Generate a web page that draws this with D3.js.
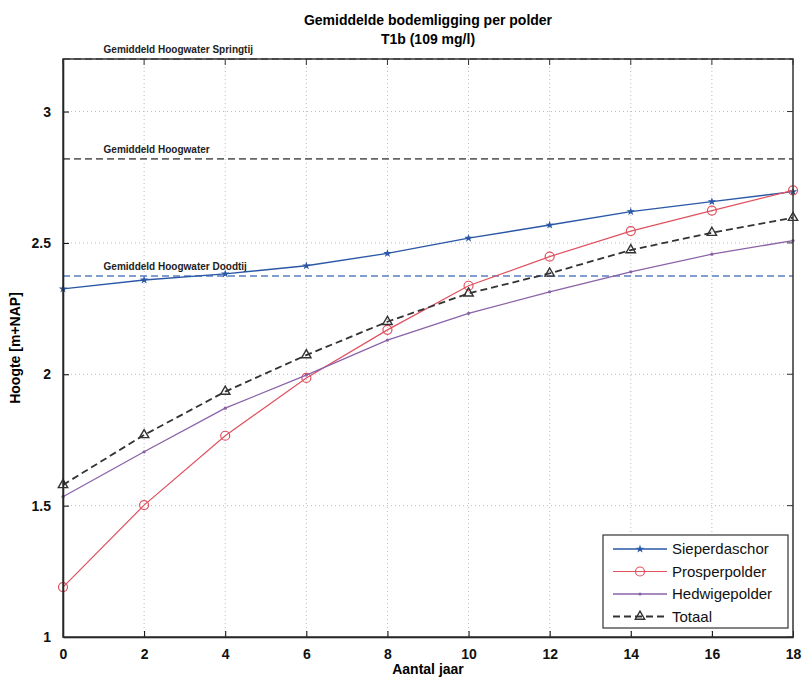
<!DOCTYPE html>
<html>
<head>
<meta charset="utf-8">
<script src="https://cdn.jsdelivr.net/npm/d3@7"></script>
<style>
  body { margin: 0; background: #fff; }
  text { font-family: "Liberation Sans", Arial, sans-serif; }
</style>
</head>
<body>
<div id="chart"></div>
<script>
const years = [0, 2, 4, 6, 8, 10, 12, 14, 16, 18];
const sieperdaschor = [2.325, 2.359, 2.382, 2.413, 2.46, 2.518, 2.568, 2.619, 2.657, 2.695];
const prosperpolder = [1.19, 1.502, 1.766, 1.986, 2.169, 2.337, 2.448, 2.545, 2.623, 2.70];
const hedwigepolder = [1.534, 1.705, 1.871, 1.997, 2.13, 2.232, 2.314, 2.39, 2.457, 2.509];
const totaal = [1.579, 1.769, 1.934, 2.073, 2.20, 2.308, 2.384, 2.473, 2.539, 2.596];

const refNames = ["Gemiddeld Hoogwater Springtij", "Gemiddeld Hoogwater", "Gemiddeld Hoogwater Doodtij"];
const refLevels = [3.2, 2.82, 2.374];
const refColors = ["#666", "#666", "#5a7fc0"];

const xTicks = [0, 2, 4, 6, 8, 10, 12, 14, 16, 18];
const yTicks = [1, 1.5, 2, 2.5, 3];

const series = [
    { name: "Sieperdaschor", values: sieperdaschor, color: "#2a57a6", marker: "star", dash: null, width: 1.4 },
    { name: "Prosperpolder", values: prosperpolder, color: "#e0505f", marker: "circle", dash: null, width: 1.2 },
    { name: "Hedwigepolder", values: hedwigepolder, color: "#8a62a8", marker: "dot", dash: null, width: 1.3 },
    { name: "Totaal", values: totaal, color: "#333", marker: "triangle", dash: "7,4", width: 1.8 }
];

const svgW = 805, svgH = 680;
const margin = { top: 59, right: 12, bottom: 43, left: 63 };
const width = svgW - margin.left - margin.right;
const height = svgH - margin.top - margin.bottom;

const svg = d3.select("#chart").append("svg")
    .attr("width", svgW)
    .attr("height", svgH);

const g = svg.append("g")
    .attr("transform", `translate(${margin.left}, ${margin.top})`);

const x = d3.scaleLinear().domain([0, 18]).range([0, width]);
const y = d3.scaleLinear().domain([1, 3.2]).range([height, 0]);

// grid
g.append("g").selectAll("line").data(xTicks.slice(1, -1)).enter().append("line")
    .attr("x1", d => x(d)).attr("x2", d => x(d))
    .attr("y1", 0).attr("y2", height)
    .attr("stroke", "#bbb").attr("stroke-dasharray", "1,3");
g.append("g").selectAll("line").data(yTicks.slice(1)).enter().append("line")
    .attr("x1", 0).attr("x2", width)
    .attr("y1", d => y(d)).attr("y2", d => y(d))
    .attr("stroke", "#bbb").attr("stroke-dasharray", "1,3");

// reference levels
refLevels.forEach((lv, i) => {
    g.append("line")
        .attr("x1", 0).attr("x2", width)
        .attr("y1", y(lv)).attr("y2", y(lv))
        .attr("stroke", refColors[i])
        .attr("stroke-width", 1.6)
        .attr("stroke-dasharray", "7,4");
    g.append("text")
        .attr("x", x(1))
        .attr("y", y(lv) - 6)
        .style("font-size", "10px")
        .style("font-weight", "bold")
        .style("fill", "#222")
        .text(refNames[i]);
});

// lines and markers
const line = d3.line().x((d, i) => x(years[i])).y(d => y(d));

function drawMarker(sel, type, color) {
    if (type === "circle") {
        sel.append("circle").attr("r", 4.5).attr("fill", "none")
            .attr("stroke", color).attr("stroke-width", 1.2);
    } else if (type === "triangle") {
        sel.append("path").attr("d", d3.symbol(d3.symbolTriangle, 38)())
            .attr("fill", "none").attr("stroke", color).attr("stroke-width", 1.4);
    } else if (type === "star") {
        sel.append("path").attr("d", d3.symbol(d3.symbolStar, 22)())
            .attr("fill", color);
    } else {
        sel.append("circle").attr("r", 1.6).attr("fill", color);
    }
}

series.forEach(s => {
    g.append("path")
        .datum(s.values)
        .attr("d", line)
        .attr("fill", "none")
        .attr("stroke", s.color)
        .attr("stroke-width", s.width)
        .attr("stroke-dasharray", s.dash);
    s.values.forEach((v, i) => {
        const m = g.append("g").attr("transform", `translate(${x(years[i])},${y(v)})`);
        drawMarker(m, s.marker, s.color);
    });
});

// axes (inward ticks)
const xAxis = g.append("g")
    .attr("transform", `translate(0, ${height})`)
    .call(d3.axisBottom(x).tickValues(xTicks).tickSizeInner(-6).tickSizeOuter(0).tickPadding(12));
const yAxis = g.append("g")
    .call(d3.axisLeft(y).tickValues(yTicks).tickSizeInner(-6).tickSizeOuter(0).tickPadding(12).tickFormat(d3.format("")));
[xAxis, yAxis].forEach(a => {
    a.selectAll("text").style("font-size", "14px").style("font-weight", "bold").style("fill", "#111");
    a.select(".domain").attr("stroke-width", 1.5);
});

// box
g.append("rect")
    .attr("width", width).attr("height", height)
    .attr("fill", "none").attr("stroke", "#333").attr("stroke-width", 1.5);
g.append("g").selectAll("line").data(xTicks).enter().append("line")
    .attr("x1", d => x(d)).attr("x2", d => x(d))
    .attr("y1", 0).attr("y2", 6).attr("stroke", "#333");
g.append("g").selectAll("line").data(yTicks).enter().append("line")
    .attr("x1", width).attr("x2", width - 6)
    .attr("y1", d => y(d)).attr("y2", d => y(d)).attr("stroke", "#333");

// titles
svg.append("text").attr("x", 428).attr("y", 25).attr("text-anchor", "middle")
    .style("font-size", "14px").style("font-weight", "bold").text("Gemiddelde bodemligging per polder");
svg.append("text").attr("x", 428).attr("y", 44).attr("text-anchor", "middle")
    .style("font-size", "14px").style("font-weight", "bold").text("T1b (109 mg/l)");
svg.append("text").attr("x", 428).attr("y", 674).attr("text-anchor", "middle")
    .style("font-size", "14px").style("font-weight", "bold").text("Aantal jaar");
svg.append("text")
    .attr("transform", `translate(20, ${margin.top + height / 2}) rotate(-90)`)
    .attr("text-anchor", "middle")
    .style("font-size", "14px").style("font-weight", "bold").text("Hoogte [m+NAP]");

// legend
const legend = svg.append("g").attr("transform", "translate(603, 535)");
legend.append("rect").attr("width", 185).attr("height", 93)
    .attr("fill", "#fff").attr("stroke", "#333").attr("stroke-width", 1.2);
series.forEach((s, i) => {
    const row = legend.append("g").attr("transform", `translate(0, ${14 + i * 22.5})`);
    row.append("line").attr("x1", 10).attr("x2", 64).attr("y1", 0).attr("y2", 0)
        .attr("stroke", s.color).attr("stroke-width", s.width).attr("stroke-dasharray", s.dash);
    drawMarker(row.append("g").attr("transform", "translate(37,0)"), s.marker, s.color);
    row.append("text").attr("x", 69).attr("y", 0).attr("dy", "0.35em")
        .style("font-size", "15px").style("fill", "#111").text(s.name);
});
</script>
</body>
</html>
